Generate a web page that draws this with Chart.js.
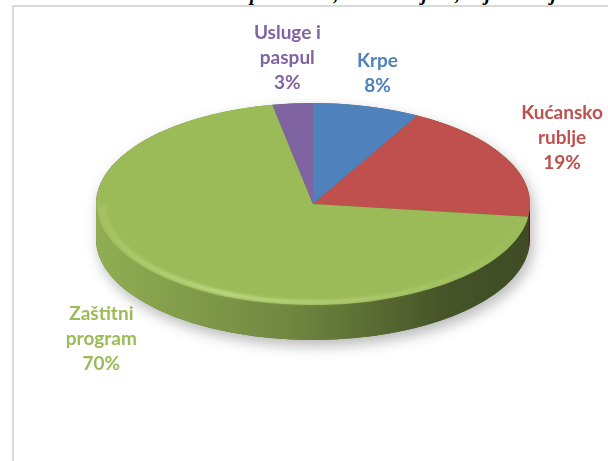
<!DOCTYPE html>
<html>
<head>
<meta charset="utf-8">
<script src="https://cdn.jsdelivr.net/npm/chart.js@4.4.1/dist/chart.umd.min.js"></script>
<style>
  html, body { margin: 0; padding: 0; background: #fff; }
  body { width: 608px; height: 461px; position: relative; overflow: hidden; }
  .caption {
    position: absolute; left: 165px; top: -18px; white-space: nowrap;
    font: italic bold 20px "Liberation Serif", "DejaVu Serif", serif; color: #000;
  }
  .frame {
    position: absolute; left: 12px; top: 5px; right: -6px; bottom: -6px;
    border: 2px solid #d9d9d9;
  }
  #wrap { position: absolute; left: 0; top: -40px; width: 608px; height: 520px; }
  .lbl {
    position: absolute; text-align: center; white-space: nowrap;
    font: bold 19px Lato, "Open Sans", sans-serif; line-height: 25px;
  }
</style>
</head>
<body>
<div class="caption">Struktura pamučnih, tkanih odjeća, odjela i odjeće</div>
<div class="frame"></div>
<div id="wrap"><canvas id="pie"></canvas></div>

<script>
// values (clockwise from 12 o'clock)
const categories = ['Krpe', 'Kućansko rublje', 'Zaštitni program', 'Usluge i paspul'];
const labelLines = [['Krpe'], ['Kućansko', 'rublje'], ['Zaštitni', 'program'], ['Usluge i', 'paspul']];
const shares = [8, 19, 70, 3];
const colors = ['#4F81BD', '#C0504D', '#9BBB59', '#8064A2'];

const TILT = 101 / 217;   // vertical squash of the top face
const DEPTH = 35;         // thickness of the disc in px
const LABEL_R = 1.1;

const wrap = document.getElementById('wrap');
const labels = categories.map((c, i) => {
  const d = document.createElement('div');
  d.className = 'lbl';
  d.style.color = colors[i];
  d.innerHTML = [...labelLines[i], shares[i] + '%'].join('<br>');
  wrap.appendChild(d);
  return d;
});

function shade(hex, f) {
  const n = parseInt(hex.slice(1), 16);
  const r = Math.round(((n >> 16) & 255) * f), g = Math.round(((n >> 8) & 255) * f), b = Math.round((n & 255) * f);
  return `rgb(${r},${g},${b})`;
}

// clip an arc [s,e] to the front half [0, PI] of the disc
function frontPart(s, e) {
  const out = [];
  for (const k of [-2, 0, 2]) {
    const a = Math.max(s, k * Math.PI), b = Math.min(e, k * Math.PI + Math.PI);
    if (b > a) out.push([a, b]);
  }
  return out;
}

const disc3d = {
  id: 'disc3d',
  beforeDatasetsDraw(chart) {
    const ctx = chart.ctx;
    const arcs = chart.getDatasetMeta(0).data;
    const { x, y, outerRadius: r } = arcs[0];
    const D = DEPTH / TILT;
    ctx.save();
    ctx.translate(x, y); ctx.scale(1, TILT); ctx.translate(-x, -y);

    // soft shadow under the disc
    ctx.save();
    ctx.shadowColor = 'rgba(0,0,0,0.28)';
    ctx.shadowBlur = 14;
    ctx.shadowOffsetX = 3;
    ctx.shadowOffsetY = 6;
    ctx.beginPath();
    ctx.arc(x, y, r, Math.PI, 2 * Math.PI);
    ctx.arc(x, y + D, r, 0, Math.PI);
    ctx.closePath();
    ctx.fillStyle = shade(colors[2], 0.6);
    ctx.fill();
    ctx.restore();

    // side walls
    arcs.forEach((a, i) => {
      frontPart(a.startAngle, a.endAngle).forEach(([s, e]) => {
        const g = ctx.createLinearGradient(x - r, 0, x + r, 0);
        g.addColorStop(0, shade(colors[i], 0.93));
        g.addColorStop(0.45, shade(colors[i], 0.72));
        g.addColorStop(0.8, shade(colors[i], 0.45));
        g.addColorStop(1, shade(colors[i], 0.4));
        ctx.beginPath();
        ctx.arc(x, y, r, s, e);
        ctx.arc(x, y + D, r, e, s, true);
        ctx.closePath();
        ctx.fillStyle = g;
        ctx.fill();
      });
    });
  },
  afterDatasetsDraw(chart) {
    const ctx = chart.ctx;
    const arcs = chart.getDatasetMeta(0).data;
    const { x, y, outerRadius: r } = arcs[0];
    // soft bevel highlight along the front rim
    const g = ctx.createLinearGradient(x - r, 0, x + r, 0);
    g.addColorStop(0, 'rgba(225,245,170,0.1)');
    g.addColorStop(0.3, 'rgba(225,245,170,0.55)');
    g.addColorStop(0.7, 'rgba(225,245,170,0.2)');
    g.addColorStop(1, 'rgba(225,245,170,0)');
    ctx.save();
    ctx.filter = 'blur(1.5px)';
    ctx.beginPath();
    ctx.arc(x, y, r - 6, 0.15, Math.PI - 0.02);
    ctx.strokeStyle = g;
    ctx.lineWidth = 8;
    ctx.stroke();
    ctx.restore();
    ctx.restore();

    // data labels outside each slice
    arcs.forEach((a, i) => {
      const m = (a.startAngle + a.endAngle) / 2;
      const c = Math.cos(m), s = Math.sin(m);
      const el = labels[i];
      const w = el.offsetWidth, h = el.offsetHeight;
      const front = s > 0 ? DEPTH : 0;
      const px = x + r * LABEL_R * c + (w / 2) * c + front * c;
      const py = y + r * TILT * LABEL_R * s + (h / 2) * s + front * s;
      el.style.left = (px - w / 2) + 'px';
      el.style.top = (py - h / 2) + 'px';
    });
  }
};

new Chart(document.getElementById('pie'), {
  type: 'pie',
  data: {
    labels: categories,
    datasets: [{ data: shares, backgroundColor: colors, borderWidth: 0, clip: false }]
  },
  options: {
    responsive: true,
    maintainAspectRatio: false,
    animation: false,
    events: [],
    layout: { padding: { left: 18, right: 0, top: 27, bottom: 59 } },
    plugins: { legend: { display: false }, tooltip: { enabled: false } }
  },
  plugins: [disc3d]
});
</script>
</body>
</html>
